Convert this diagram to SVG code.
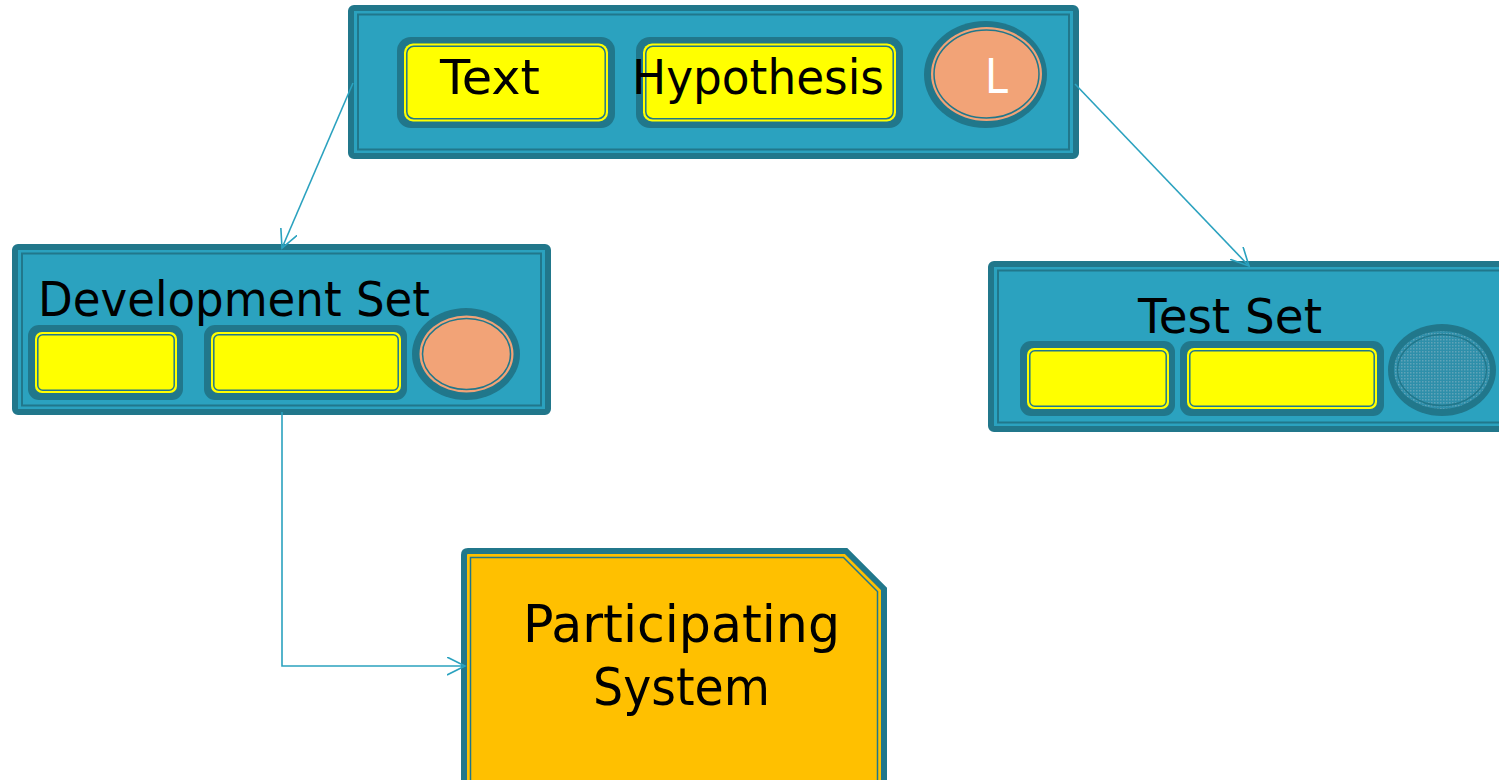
<svg xmlns="http://www.w3.org/2000/svg" width="1499" height="780" viewBox="0 0 1499 780">
<defs>
<style>
.frame{fill:#2BA2BF;stroke:#21778B;stroke-width:6}
.fline{fill:none;stroke:#21778B;stroke-width:2}
.slot{fill:#21778B}
.yel{fill:#FFFF00}
.yline{fill:none;stroke:#21778B;stroke-width:1.5}
.sal{fill:#F2A377}
.lbl{font-family:"DejaVu Sans",sans-serif;font-size:48px;fill:#000}
.conn{fill:none;stroke:#2BA2BF;stroke-width:1.6}
</style>
<marker id="arr" markerUnits="userSpaceOnUse" markerWidth="22" markerHeight="22" refX="18" refY="9" orient="auto">
<path d="M0,0 L18,9 L0,18" fill="none" stroke="#2BA2BF" stroke-width="1.6"/>
</marker>
<pattern id="dots" width="3" height="3" patternUnits="userSpaceOnUse">
<rect width="3" height="3" fill="#2E8FAA"/>
<rect width="1.5" height="1.5" fill="#5FA3B8"/>
</pattern>
</defs>

<g id="hypothesis-node">
<rect class="frame" x="351" y="8" width="725" height="148" rx="3"/>
<rect class="fline" x="358" y="14.5" width="711" height="135"/>
<rect class="slot" x="397" y="37" width="218" height="91" rx="14"/>
<rect class="yel" x="404" y="43.5" width="204" height="78" rx="9"/>
<rect class="yline" x="406.8" y="46.3" width="198.4" height="72.4" rx="7"/>
<rect class="slot" x="636" y="37" width="267" height="91" rx="14"/>
<rect class="yel" x="643" y="43.5" width="253" height="78" rx="9"/>
<rect class="yline" x="645.8" y="46.3" width="247.4" height="72.4" rx="7"/>
<ellipse class="slot" cx="985.5" cy="74.5" rx="61.5" ry="53.5"/>
<ellipse class="sal" cx="986.5" cy="74" rx="55.5" ry="47"/>
<ellipse class="yline" cx="986.5" cy="74" rx="52.5" ry="44"/>
<text class="lbl" x="440" y="94" textLength="100" lengthAdjust="spacingAndGlyphs">Text</text>
<text class="lbl" x="632" y="94" textLength="252" lengthAdjust="spacingAndGlyphs">Hypothesis</text>
<text class="lbl" x="985" y="93" style="fill:#fff" textLength="23" lengthAdjust="spacingAndGlyphs">L</text>
</g>

<g id="development-set">
<rect class="frame" x="15" y="247" width="533" height="165" rx="3"/>
<rect class="fline" x="22" y="253.5" width="519" height="152"/>
<text class="lbl" x="38" y="316" textLength="392" lengthAdjust="spacingAndGlyphs">Development Set</text>
<rect class="slot" x="28" y="325" width="155" height="75" rx="11"/>
<rect class="yel" x="35" y="332" width="142" height="61" rx="7"/>
<rect class="yline" x="37.8" y="334.8" width="136.4" height="55.4" rx="5"/>
<rect class="slot" x="204" y="325" width="203" height="75" rx="11"/>
<rect class="yel" x="211" y="332" width="190" height="61" rx="7"/>
<rect class="yline" x="213.8" y="334.8" width="184.4" height="55.4" rx="5"/>
<ellipse class="slot" cx="466" cy="354" rx="54" ry="46"/>
<ellipse class="sal" cx="466.5" cy="354" rx="47" ry="38.5"/>
<ellipse class="yline" cx="466.5" cy="354" rx="44" ry="35.5"/>
</g>

<g id="test-set">
<rect class="frame" x="991" y="264" width="540" height="165" rx="3"/>
<rect class="fline" x="998" y="270.5" width="530" height="152"/>
<text class="lbl" x="1138" y="333" textLength="184" lengthAdjust="spacingAndGlyphs">Test Set</text>
<rect class="slot" x="1020" y="341" width="155" height="75" rx="11"/>
<rect class="yel" x="1027" y="348" width="142" height="61" rx="7"/>
<rect class="yline" x="1029.8" y="350.8" width="136.4" height="55.4" rx="5"/>
<rect class="slot" x="1180" y="341" width="204" height="75" rx="11"/>
<rect class="yel" x="1187" y="348" width="190" height="61" rx="7"/>
<rect class="yline" x="1189.8" y="350.8" width="184.4" height="55.4" rx="5"/>
<ellipse class="slot" cx="1442" cy="370" rx="54" ry="46"/>
<ellipse fill="url(#dots)" cx="1442" cy="370" rx="48" ry="39"/>
<ellipse fill="none" stroke="#21778B" stroke-width="1.4" cx="1442" cy="370" rx="44.5" ry="35.5"/>
</g>

<g id="participating-system">
<path d="M464,800 L464,555 Q464,551 468,551 L846,551 L884,589 L884,800 Z" fill="#FFC000" stroke="#21778B" stroke-width="6"/>
<path d="M470.5,800 L470.5,557.5 L843.5,557.5 L877.5,591.5 L877.5,800" fill="none" stroke="#21778B" stroke-width="1.5"/>
<text class="lbl" x="523" y="642" style="font-size:51px" textLength="317" lengthAdjust="spacingAndGlyphs">Participating</text>
<text class="lbl" x="593" y="705" style="font-size:51px" textLength="177" lengthAdjust="spacingAndGlyphs">System</text>
</g>

<g id="connectors">
<path class="conn" d="M353,83 L282,248" marker-end="url(#arr)"/>
<path class="conn" d="M1075,84 L1249,266" marker-end="url(#arr)"/>
<path class="conn" d="M282,412 L282,666 L465,666" marker-end="url(#arr)"/>
</g>
</svg>
